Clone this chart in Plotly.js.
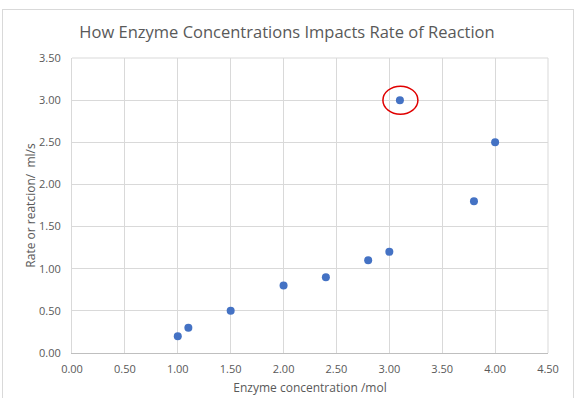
<!DOCTYPE html>
<html>
<head>
<meta charset="utf-8">
<script src="https://cdn.plot.ly/plotly-3.0.1.min.js"></script>
<style>
html,body{margin:0;padding:0;background:#fff;}
#wrap{position:relative;width:574px;height:398px;overflow:hidden;}
#chart{position:absolute;left:0;top:0;width:574px;height:398px;}
#frame{position:absolute;left:2px;top:9px;width:570px;height:400px;border:1px solid #d9d9d9;pointer-events:none;}
</style>
</head>
<body>
<div id="wrap"><div id="chart"></div><div id="frame"></div></div>
<script>
const enzymeConc = [1.0, 1.1, 1.5, 2.0, 2.4, 2.8, 3.0, 3.1, 3.8, 4.0];
const rate = [0.2, 0.3, 0.5, 0.8, 0.9, 1.1, 1.2, 3.0, 1.8, 2.5];
const outlierIndex = 7;
const xTicks = [0, 0.5, 1, 1.5, 2, 2.5, 3, 3.5, 4, 4.5];
const yTicks = [0, 0.5, 1, 1.5, 2, 2.5, 3, 3.5];
const titleText = 'How Enzyme Concentrations Impacts Rate of Reaction';
const xTitle = 'Enzyme concentration /mol';
const yTitle = 'Rate or reatcion/  ml/s';

const font = 'Open Sans, Liberation Sans, sans-serif';
const grey = '#595959';

Plotly.newPlot('chart', [{
  x: enzymeConc, y: rate, type: 'scatter', mode: 'markers',
  marker: {color: '#4472C4', size: 8}
}], {
  width: 574, height: 398,
  margin: {l: 72, r: 26, t: 58, b: 45},
  paper_bgcolor: '#fff', plot_bgcolor: '#fff',
  showlegend: false,
  title: {text: titleText, font: {family: font, size: 16.5, color: grey}, x: 0.5, xanchor: 'center', y: 0.92, yanchor: 'middle'},
  xaxis: {
    range: [0, 4.5], tickvals: xTicks, ticktext: xTicks.map(v => v.toFixed(2)),
    showgrid: true, gridcolor: '#d9d9d9', zeroline: false,
    showline: true, linecolor: '#bfbfbf', linewidth: 1, mirror: false,
    ticks: 'outside', ticklen: 6, tickcolor: 'rgba(0,0,0,0)',
    tickfont: {family: font, size: 11, color: grey},
    title: {text: xTitle, font: {family: font, size: 12, color: grey}, standoff: 8}
  },
  yaxis: {
    range: [0, 3.5], tickvals: yTicks, ticktext: yTicks.map(v => v.toFixed(2)),
    showgrid: true, gridcolor: '#d9d9d9', zeroline: false,
    showline: true, linecolor: '#d9d9d9', linewidth: 1,
    ticks: 'outside', ticklen: 8, tickcolor: 'rgba(0,0,0,0)',
    tickfont: {family: font, size: 11, color: grey},
    title: {text: yTitle, font: {family: font, size: 12, color: grey}, standoff: 0}
  },
  shapes: [
    {type: 'line', xref: 'paper', yref: 'paper', x0: 1, x1: 1, y0: 0, y1: 1, line: {color: '#d9d9d9', width: 1}},
    {type: 'line', xref: 'paper', yref: 'paper', x0: 0, x1: 1, y0: 1, y1: 1, line: {color: '#d9d9d9', width: 1}},
    {type: 'circle', xref: 'x', yref: 'y', xsizemode: 'pixel', ysizemode: 'pixel',
     xanchor: enzymeConc[outlierIndex], yanchor: rate[outlierIndex],
     x0: -17, x1: 18, y0: -14, y1: 14, line: {color: '#E00000', width: 1.5}}
  ]
}, {displayModeBar: false, staticPlot: true});
</script>
</body>
</html>
